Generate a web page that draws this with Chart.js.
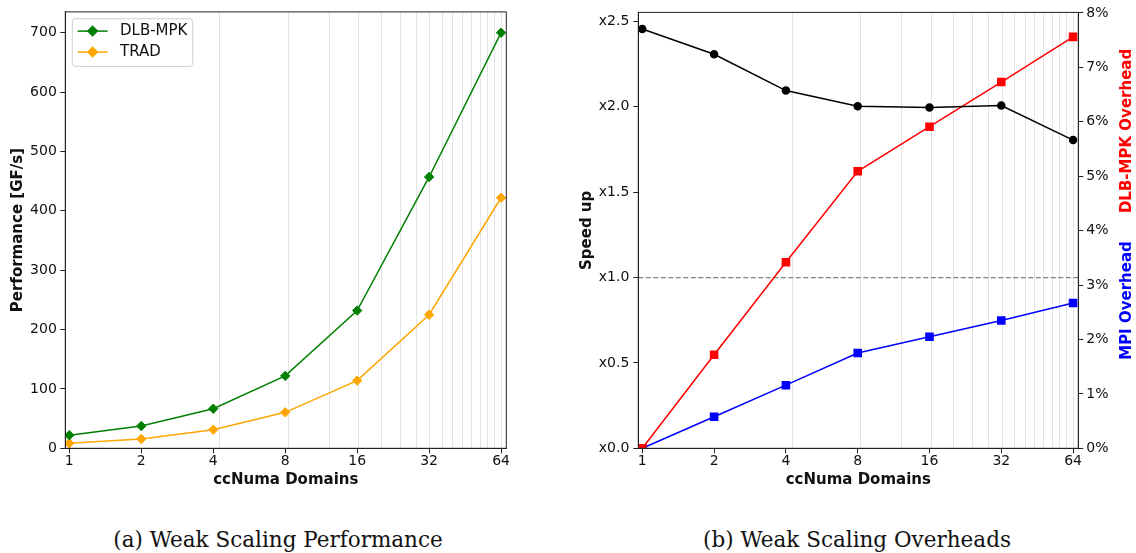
<!doctype html>
<html lang="en">
  <head>
    <meta charset="UTF-8" />
    <title>Weak Scaling</title>
    <script src="https://cdn.jsdelivr.net/npm/chart.js"></script>
    <style>
      body {
        margin: 0;
        padding: 0;
        width: 1136px;
        height: 553px;
        background: #fff;
        position: relative;
        overflow: hidden;
      }
      .chart-box {
        position: absolute;
        top: 0;
        height: 500px;
      }
      .caption {
        position: absolute;
        top: 529px;
        font-family: 'DejaVu Serif', serif;
        font-size: 21.5px;
        line-height: 22px;
        color: #111;
        text-align: center;
        white-space: nowrap;
      }
    </style>
  </head>
  <body>
    <div class="chart-box" style="left: 0; width: 530px"><canvas id="perfChart"></canvas></div>
    <div class="chart-box" style="left: 560px; width: 576px"><canvas id="overheadChart"></canvas></div>
    <div class="caption" style="left: 0; width: 556px">(a) Weak Scaling Performance</div>
    <div class="caption" style="left: 657px; width: 400px">(b) Weak Scaling Overheads</div>

    <script>
      // ccNuma domains on the x axis (log2 spaced)
      const domains = [1, 2, 4, 8, 16, 32, 64];
      // light vertical grid lines as they appear in the picture
      const minorGrid = [4.25, 8.25, 12.25, 16.25, 20.25, 24.25, 28.25, 32.25, 36.25, 40.25, 44.25, 48.25, 52.25, 56.25, 60.25, 64.25];

      // (a) performance in GF/s
      const dlbPerf = [22, 37.5, 66.7, 122, 232, 457, 700];
      const tradPerf = [8.4, 15.7, 31.3, 60.6, 114, 225, 422];
      const perfTicks = [0, 100, 200, 300, 400, 500, 600, 700];

      // (b) speed up and overheads (%)
      const speedup = [2.456, 2.308, 2.095, 2.004, 1.996, 2.008, 1.805];
      const dlbOverhead = [0, 1.72, 3.42, 5.09, 5.91, 6.73, 7.56];
      const mpiOverhead = [0, 0.58, 1.16, 1.75, 2.05, 2.35, 2.67];
      const speedupBaseline = 1.0;

      Chart.defaults.font.family = "'DejaVu Sans', sans-serif";
      Chart.defaults.font.size = 14;
      Chart.defaults.color = '#111';

      const frameColor = '#222';
      const titleFont = { weight: 'bold', size: 15 };

      function points(values) {
        return domains.map((d, i) => ({ x: d, y: values[i] }));
      }

      function xAxis(height) {
        return {
          type: 'logarithmic',
          min: 0.962,
          max: 67.3,
          afterBuildTicks: (axis) => {
            axis.ticks = domains.concat(minorGrid).sort((a, b) => a - b).map((v) => ({ value: v }));
          },
          ticks: {
            autoSkip: false,
            maxRotation: 0,
            padding: 0,
            color: '#111',
            callback: (v) => (domains.includes(v) ? String(v) : ''),
          },
          grid: {
            lineWidth: 1,
            tickLength: 5,
            color: (ctx) => (ctx.tick && domains.includes(ctx.tick.value) ? 'rgba(0,0,0,0)' : '#e4e4e4'),
            tickColor: (ctx) => (ctx.tick && domains.includes(ctx.tick.value) ? frameColor : 'rgba(0,0,0,0)'),
          },
          border: { color: frameColor, width: 1 },
          title: {
            display: true,
            text: 'ccNuma Domains',
            font: titleFont,
            padding: { top: 0, bottom: 11 },
          },
          afterFit: (s) => {
            s.height = height;
          },
        };
      }

      function yGrid() {
        return { drawOnChartArea: false, tickLength: 5, tickColor: frameColor };
      }

      const framePlugin = {
        id: 'frame',
        afterDatasetsDraw(chart) {
          const a = chart.chartArea;
          const ctx = chart.ctx;
          ctx.save();
          ctx.strokeStyle = frameColor;
          ctx.lineWidth = 1;
          ctx.strokeRect(a.left, a.top, a.right - a.left, a.bottom - a.top);
          ctx.restore();
        },
      };

      const legendPlugin = {
        id: 'boxLegend',
        afterDraw(chart) {
          const a = chart.chartArea;
          const ctx = chart.ctx;
          const bx = a.left + 7;
          const by = a.top + 6.8;
          ctx.save();
          ctx.fillStyle = 'rgba(255,255,255,0.8)';
          ctx.strokeStyle = '#d0d0d0';
          ctx.lineWidth = 1;
          ctx.beginPath();
          ctx.roundRect(bx, by, 120.4, 47.7, 3);
          ctx.fill();
          ctx.stroke();
          chart.data.datasets.forEach((ds, i) => {
            const y = by + 12.4 + i * 21;
            ctx.strokeStyle = ds.borderColor;
            ctx.lineWidth = ds.borderWidth;
            ctx.beginPath();
            ctx.moveTo(bx + 5.3, y);
            ctx.lineTo(bx + 35.3, y);
            ctx.stroke();
            Chart.helpers.drawPoint(ctx, {
              pointStyle: ds.pointStyle,
              radius: ds.pointRadius,
              borderWidth: 1,
            }, bx + 20.3, y);
            ctx.fillStyle = ds.backgroundColor;
            ctx.strokeStyle = ds.borderColor;
            ctx.fill();
            ctx.fillStyle = '#111';
            ctx.font = "15px 'DejaVu Sans'";
            ctx.textBaseline = 'middle';
            ctx.textAlign = 'left';
            ctx.fillText(ds.label, bx + 47.7, y);
          });
          ctx.restore();
        },
      };

      const baselinePlugin = {
        id: 'baseline',
        beforeDatasetsDraw(chart) {
          const a = chart.chartArea;
          const y = chart.scales.y.getPixelForValue(speedupBaseline);
          const ctx = chart.ctx;
          ctx.save();
          ctx.strokeStyle = '#808080';
          ctx.lineWidth = 1.2;
          ctx.setLineDash([5, 2.5]);
          ctx.beginPath();
          ctx.moveTo(a.left, y);
          ctx.lineTo(a.right, y);
          ctx.stroke();
          ctx.restore();
        },
      };

      const rightTitlesPlugin = {
        id: 'rightTitles',
        afterDraw(chart) {
          const a = chart.chartArea;
          const ctx = chart.ctx;
          const h = a.bottom - a.top;
          const titles = [
            { text: 'DLB-MPK Overhead', color: '#ff0000', frac: 0.272 },
            { text: 'MPI Overhead', color: '#0000ff', frac: 0.661 },
          ];
          ctx.save();
          ctx.font = "bold 15px 'DejaVu Sans'";
          ctx.textAlign = 'center';
          ctx.textBaseline = 'middle';
          titles.forEach((t) => {
            ctx.save();
            ctx.translate(a.right + 48.4, a.top + h * t.frac);
            ctx.rotate(-Math.PI / 2);
            ctx.fillStyle = t.color;
            ctx.fillText(t.text, 0, 0);
            ctx.restore();
          });
          ctx.restore();
        },
      };

      new Chart(document.getElementById('perfChart'), {
        type: 'line',
        data: {
          datasets: [
            {
              label: 'DLB-MPK',
              data: points(dlbPerf),
              borderColor: '#008000',
              backgroundColor: '#008000',
              borderWidth: 1.5,
              pointStyle: 'rectRot',
              pointRadius: 4.7,
              pointBorderWidth: 1,
            },
            {
              label: 'TRAD',
              data: points(tradPerf),
              borderColor: '#ffa500',
              backgroundColor: '#ffa500',
              borderWidth: 1.5,
              pointStyle: 'rectRot',
              pointRadius: 4.7,
              pointBorderWidth: 1,
            },
          ],
        },
        options: {
          responsive: true,
          maintainAspectRatio: false,
          animation: false,
          layout: { padding: { top: 11.5, right: 23.7, left: 0, bottom: 0 } },
          plugins: { legend: { display: false }, tooltip: { enabled: false } },
          scales: {
            x: xAxis(51.7),
            y: {
              min: 0,
              max: 735,
              afterBuildTicks: (axis) => {
                axis.ticks = perfTicks.map((v) => ({ value: v }));
              },
              ticks: { padding: 3.5, color: '#111' },
              grid: yGrid(),
              border: { color: frameColor, width: 1 },
              title: {
                display: true,
                text: 'Performance [GF/s]',
                font: titleFont,
                padding: { top: 9.2, bottom: 0 },
              },
              afterFit: (s) => {
                s.width = 65.3;
              },
            },
          },
        },
        plugins: [framePlugin, legendPlugin],
      });

      new Chart(document.getElementById('overheadChart'), {
        type: 'line',
        data: {
          datasets: [
            {
              label: 'Speed up',
              data: points(speedup),
              yAxisID: 'y',
              borderColor: '#000000',
              backgroundColor: '#000000',
              borderWidth: 1.5,
              pointStyle: 'circle',
              pointRadius: 3.5,
            },
            {
              label: 'DLB-MPK Overhead',
              data: points(dlbOverhead),
              yAxisID: 'y2',
              borderColor: '#ff0000',
              backgroundColor: '#ff0000',
              borderWidth: 1.5,
              pointStyle: 'rect',
              pointRadius: 5,
            },
            {
              label: 'MPI Overhead',
              data: points(mpiOverhead),
              yAxisID: 'y2',
              borderColor: '#0000ff',
              backgroundColor: '#0000ff',
              borderWidth: 1.5,
              pointStyle: 'rect',
              pointRadius: 5,
            },
          ],
        },
        options: {
          responsive: true,
          maintainAspectRatio: false,
          animation: false,
          layout: { padding: { top: 11, right: 0, left: 0, bottom: 0 } },
          plugins: { legend: { display: false }, tooltip: { enabled: false } },
          scales: {
            x: xAxis(51.7),
            y: {
              position: 'left',
              min: 0,
              max: 2.553,
              ticks: {
                stepSize: 0.5,
                includeBounds: false,
                padding: 4,
                color: '#111',
                callback: (v) => 'x' + Number(v).toFixed(1),
              },
              grid: yGrid(),
              border: { color: frameColor, width: 1 },
              title: {
                display: true,
                text: 'Speed up',
                font: titleFont,
                padding: { top: 18.2, bottom: 0 },
              },
              afterFit: (s) => {
                s.width = 78.3;
              },
            },
            y2: {
              position: 'right',
              min: 0,
              max: 8.01,
              ticks: {
                stepSize: 1,
                includeBounds: false,
                padding: 3,
                color: '#111',
                callback: (v) => Math.round(v) + '%',
              },
              grid: yGrid(),
              border: { color: frameColor, width: 1 },
              afterFit: (s) => {
                s.width = 57.7;
              },
            },
          },
        },
        plugins: [baselinePlugin, framePlugin, rightTitlesPlugin],
      });
    </script>
  </body>
</html>
